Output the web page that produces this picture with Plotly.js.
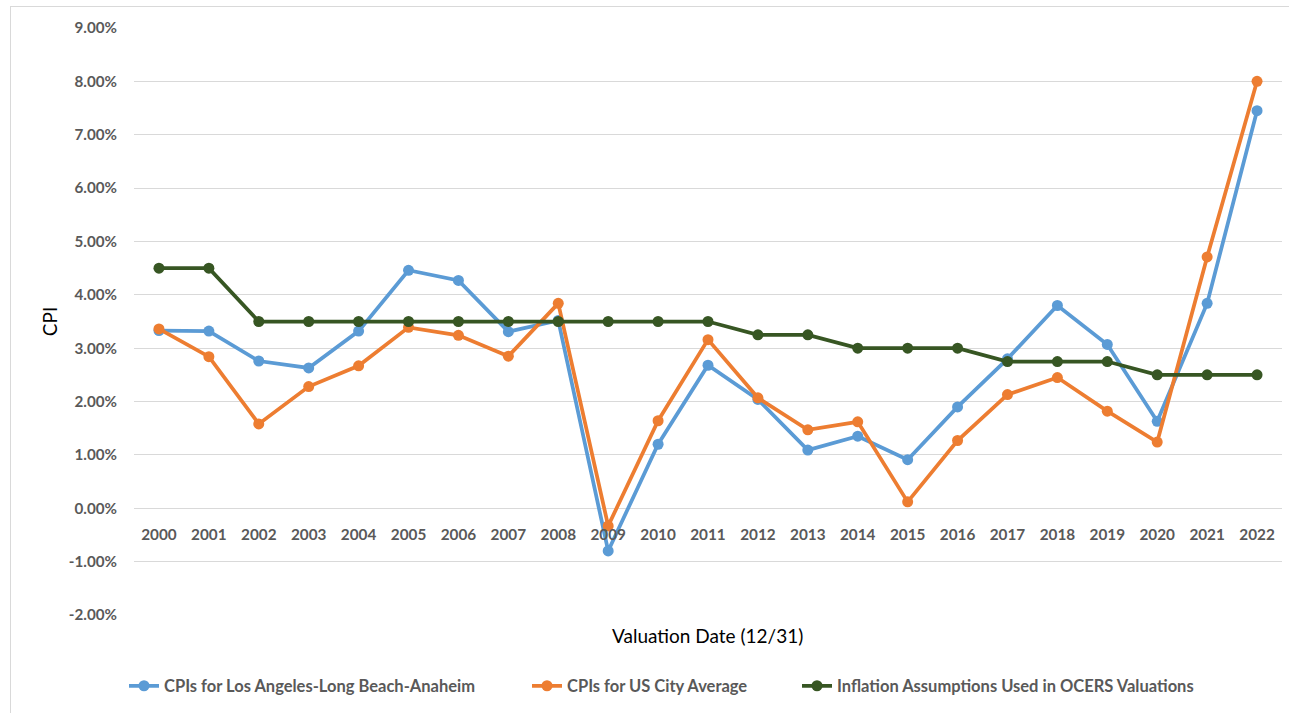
<!DOCTYPE html>
<html>
<head>
<meta charset="utf-8">
<script src="https://cdn.plot.ly/plotly-3.0.1.min.js"></script>
<style>
  html, body { margin: 0; padding: 0; background: #ffffff; }
  #frame { position: absolute; left: 10px; top: 6px; width: 1300px; height: 720px; border: 1px solid #D9D9D9; box-sizing: border-box; }
  #chart { position: absolute; left: 0; top: 0; width: 1289px; height: 713px; }
</style>
</head>
<body>
<div id="frame"></div>
<div id="chart"></div>
<script>
const years = ["2000","2001","2002","2003","2004","2005","2006","2007","2008","2009","2010","2011","2012","2013","2014","2015","2016","2017","2018","2019","2020","2021","2022"];
const cpiLA = [3.33,3.32,2.76,2.63,3.32,4.46,4.27,3.31,3.52,-0.80,1.20,2.68,2.04,1.09,1.35,0.91,1.90,2.80,3.80,3.07,1.63,3.84,7.45];
const cpiUS = [3.36,2.84,1.58,2.28,2.67,3.39,3.24,2.85,3.84,-0.33,1.64,3.16,2.07,1.47,1.62,0.12,1.27,2.13,2.45,1.82,1.24,4.71,8.00];
const inflAssump = [4.50,4.50,3.50,3.50,3.50,3.50,3.50,3.50,3.50,3.50,3.50,3.50,3.25,3.25,3.00,3.00,3.00,2.75,2.75,2.75,2.50,2.50,2.50];
const seriesNames = ["CPIs for Los Angeles-Long Beach-Anaheim","CPIs for US City Average","Inflation Assumptions Used in OCERS Valuations"];
const yTicks = [-2,-1,0,1,2,3,4,5,6,7,8,9];

const toFrac = a => a.map(v => v / 100);
const font = "Lato, 'Open Sans', sans-serif";
const mk = (y, name, color, legend) => ({
  x: years, y: toFrac(y), name: name, type: 'scatter', mode: 'lines+markers',
  line: {color: color, width: 3.75}, marker: {color: color, size: 11},
  legend: legend, hoverinfo: 'x+y'
});
const data = [
  mk(cpiLA, seriesNames[0], '#5B9BD5', 'legend'),
  mk(cpiUS, seriesNames[1], '#ED7D31', 'legend2'),
  mk(inflAssump, seriesNames[2], '#375623', 'legend3')
];
const legFont = {family: font, size: 16.5, color: '#595959', weight: 'bold'};
const legBase = {orientation: 'h', yanchor: 'middle', xanchor: 'left', y: -0.121, bgcolor: 'rgba(0,0,0,0)', font: legFont, itemwidth: 30};
const layout = {
  width: 1289, height: 713,
  margin: {l: 134, r: 7, t: 28, b: 98},
  paper_bgcolor: 'rgba(0,0,0,0)', plot_bgcolor: 'rgba(0,0,0,0)',
  font: {family: font, color: '#595959'},
  showlegend: true,
  legend: Object.assign({}, legBase, {x: (124 - 134) / 1148}),
  legend2: Object.assign({}, legBase, {x: (527 - 134) / 1148}),
  legend3: Object.assign({}, legBase, {x: (797 - 134) / 1148}),
  xaxis: {
    type: 'category', range: [-0.5, 22.5], anchor: 'free', position: 2 / 11,
    showgrid: false, showline: false, zeroline: false,
    ticks: 'outside', ticklen: 0, ticklabelstandoff: 12,
    tickfont: {family: font, size: 15.3, color: '#595959', weight: 'bold'}
  },
  yaxis: {
    range: [-0.02, 0.09], tickvals: toFrac(yTicks),
    ticktext: yTicks.map(v => v.toFixed(2) + '%'),
    showgrid: true, gridcolor: '#D9D9D9', gridwidth: 1,
    zeroline: false, showline: false, ticks: '', ticklabelstandoff: 16,
    tickfont: {family: font, size: 15.2, color: '#595959', weight: 'bold'},
    title: {text: 'CPI', font: {family: font, size: 19, color: '#000000'}, standoff: 6}
  },
  annotations: [{
    text: 'Valuation Date (12/31)', xref: 'paper', yref: 'paper',
    x: (707.5 - 134) / 1148, y: (615 - 635) / 587, xanchor: 'center', yanchor: 'middle',
    showarrow: false, font: {family: font, size: 19, color: '#000000'}
  }]
};
Plotly.newPlot('chart', data, layout, {displayModeBar: false, staticPlot: true});
</script>
</body>
</html>
